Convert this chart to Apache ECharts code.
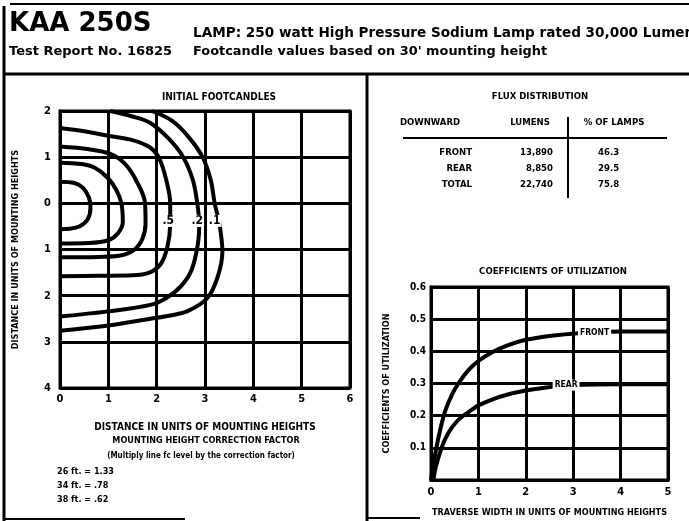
<!DOCTYPE html>
<html>
<head>
<meta charset="utf-8">
<script src="https://cdn.jsdelivr.net/npm/echarts@6/dist/echarts.min.js"></script>
<style>
  html, body { margin: 0; padding: 0; background: #fff; }
  #main { width: 689px; height: 521px; }
</style>
</head>
<body>
<div id="main"></div>
<script>
// isofootcandle lines, [across, along] in mounting heights (front is up)
var curve1 = [[0, 0.47], [0.3, 0.44], [0.48, 0.33], [0.6, 0.12], [0.63, -0.1], [0.57, -0.35], [0.4, -0.5], [0.2, -0.55], [0, -0.56]];
var curve2 = [[0, 0.88], [0.45, 0.85], [0.72, 0.77], [0.97, 0.57], [1.16, 0.3], [1.27, 0], [1.3, -0.4], [1.2, -0.65], [1.0, -0.8], [0.6, -0.86], [0, -0.87]];
var curve3 = [[0, 1.23], [0.6, 1.17], [1.04, 1.07], [1.35, 0.85], [1.6, 0.45], [1.76, 0], [1.77, -0.45], [1.7, -0.78], [1.52, -1.02], [1.25, -1.13], [0.8, -1.16], [0, -1.17]];
var curve4 = [[0, 1.63], [0.5, 1.56], [1.02, 1.46], [1.5, 1.37], [1.85, 1.22], [2.05, 0.98], [2.2, 0.5], [2.28, 0], [2.28, -0.45], [2.22, -0.95], [2.08, -1.32], [1.85, -1.5], [1.5, -1.56], [0.8, -1.57], [0, -1.58]];
var curve5 = [[1.04, 2.0], [1.5, 1.88], [1.87, 1.74], [2.25, 1.4], [2.55, 1.0], [2.75, 0.5], [2.84, 0], [2.88, -0.45], [2.85, -0.9], [2.72, -1.45], [2.5, -1.8], [2.2, -2.05], [1.87, -2.2], [1.0, -2.34], [0, -2.45]];
var curve6 = [[1.9, 2.0], [2.3, 1.8], [2.65, 1.45], [2.95, 1.0], [3.12, 0.5], [3.2, 0], [3.3, -0.45], [3.36, -1.05], [3.26, -1.6], [3.05, -2.05], [2.65, -2.33], [2.28, -2.43], [1.87, -2.5], [1.04, -2.64], [0, -2.76]];
var curves = [curve1, curve2, curve3, curve4, curve5, curve6];
var contourLabels = [[2.24, -0.38, '.5'], [2.84, -0.38, '.2'], [3.2, -0.38, '.1']];

// coefficients of utilization vs traverse width
var frontCU = [[0, 0], [0.05, 0.045], [0.1, 0.09], [0.2, 0.16], [0.3, 0.215], [0.45, 0.268], [0.6, 0.305], [0.8, 0.343], [1.0, 0.37], [1.3, 0.398], [1.6, 0.418], [2.0, 0.436], [2.5, 0.448], [3.0, 0.455], [3.5, 0.46], [4.0, 0.462], [5.0, 0.462]];
var rearCU = [[0.05, 0], [0.1, 0.04], [0.2, 0.09], [0.3, 0.128], [0.45, 0.165], [0.6, 0.19], [0.8, 0.212], [1.0, 0.232], [1.3, 0.251], [1.6, 0.265], [2.0, 0.278], [2.4, 0.287], [3.0, 0.295], [4.0, 0.298], [5.45, 0.298]];
var cuLabels = [[3.45, 0.457, 'FRONT'], [2.85, 0.295, 'REAR']];

// flux distribution table
var fluxSides = ['FRONT', 'REAR', 'TOTAL'];
var fluxLumens = ['13,890', '8,850', '22,740'];
var fluxPercent = ['46.3', '29.5', '75.8'];

// mounting height correction
var mountHeights = ['26 ft.', '34 ft.', '38 ft.'];
var mountFactors = ['1.33', '.78', '.62'];

var CF = '"DejaVu Sans Condensed", "Liberation Sans Narrow", "DejaVu Sans", sans-serif';
var HF = '"DejaVu Sans", "Liberation Sans", sans-serif';

function txt(x, y, s, size, align, family) {
  return {
    type: 'text', x: x, y: y,
    style: {
      text: s, fill: '#000', textAlign: align || 'left', textVerticalAlign: 'middle',
      font: 'bold ' + size + 'px ' + (family || CF)
    }
  };
}
function ln(x1, y1, x2, y2, w) {
  return { type: 'line', shape: { x1: x1, y1: y1, x2: x2, y2: y2 }, style: { stroke: '#000', lineWidth: w } };
}

var graphic = [
  // frame
  ln(10, 4, 689, 4, 2),
  ln(4, 6, 4, 521, 3),
  ln(4, 74, 689, 74, 3),
  ln(367, 74, 367, 521, 3),
  ln(4, 519, 185, 519, 2),
  ln(367, 518, 420, 518, 2),
  // header
  txt(9, 24, 'KAA 250S', 26, 'left', HF),
  txt(9, 52, 'Test Report No. 16825', 13, 'left', HF),
  txt(193, 33, 'LAMP: 250 watt High Pressure Sodium Lamp rated 30,000 Lumens', 13.6, 'left', HF),
  txt(193, 52, 'Footcandle values based on 30\' mounting height', 12.9, 'left', HF),
  // left panel
  txt(219, 97, 'INITIAL FOOTCANDLES', 10, 'center'),
  txt(206, 441, 'MOUNTING HEIGHT CORRECTION FACTOR', 9, 'center'),
  txt(201, 456, '(Multiply line fc level by the correction factor)', 8, 'center'),
  // right panel
  txt(540, 97, 'FLUX DISTRIBUTION', 9.5, 'center'),
  txt(430, 123, 'DOWNWARD', 9.5, 'center'),
  txt(530, 123, 'LUMENS', 9.5, 'center'),
  txt(614, 123, '% OF LAMPS', 9.5, 'center'),
  ln(403, 138, 667, 138, 2),
  ln(568, 117, 568, 198, 2),
  txt(553, 272, 'COEFFICIENTS OF UTILIZATION', 9.5, 'center')
];
fluxSides.forEach(function (s, i) {
  var y = 153 + i * 16;
  graphic.push(txt(472, y, s, 9.5, 'right'));
  graphic.push(txt(553, y, fluxLumens[i], 9.5, 'right'));
  graphic.push(txt(598, y, fluxPercent[i], 9.5, 'left'));
});
mountHeights.forEach(function (h, i) {
  graphic.push(txt(57, 472 + i * 14, h + ' = ' + mountFactors[i], 9, 'left'));
});

var tickLabel = { color: '#000', fontWeight: 'bold', fontSize: 11, fontFamily: CF };
var nameStyle = { color: '#000', fontWeight: 'bold', fontSize: 9, fontFamily: CF };
var markLabel = {
  show: true, position: 'inside', formatter: '{b}', color: '#000', fontWeight: 'bold', opacity: 1,
  fontFamily: CF, backgroundColor: '#fff', textBorderWidth: 0, textBorderColor: 'transparent'
};

var series = curves.map(function (c) {
  return {
    type: 'line', xAxisIndex: 0, yAxisIndex: 0, data: c, smooth: 0.35,
    showSymbol: false, lineStyle: { color: '#000', width: 4 }, z: 3
  };
});
series.push({
  type: 'scatter', xAxisIndex: 0, yAxisIndex: 0, symbolSize: 0, z: 5,
  itemStyle: { color: '#000', opacity: 1 },
  data: contourLabels.map(function (d) { return { value: [d[0], d[1]], name: d[2] }; }),
  label: Object.assign({ fontSize: 12, padding: [0, 1] }, markLabel)
});
series.push({
  type: 'line', xAxisIndex: 1, yAxisIndex: 1, data: frontCU, smooth: 0.3,
  showSymbol: false, lineStyle: { color: '#000', width: 4 }, z: 3
});
series.push({
  type: 'line', xAxisIndex: 1, yAxisIndex: 1, data: rearCU, smooth: 0.3, clip: false,
  showSymbol: false, lineStyle: { color: '#000', width: 4 }, z: 3
});
series.push({
  type: 'scatter', xAxisIndex: 1, yAxisIndex: 1, symbolSize: 0, z: 5,
  itemStyle: { color: '#000', opacity: 1 },
  data: cuLabels.map(function (d) { return { value: [d[0], d[1]], name: d[2] }; }),
  label: Object.assign({ fontSize: 8.5, padding: [1, 2] }, markLabel)
});

var myChart = echarts.init(document.getElementById('main'));
var option = {
  animation: false,
  backgroundColor: '#fff',
  grid: [
    { left: 60, top: 111, width: 290, height: 277, show: true, borderColor: '#000', borderWidth: 3 },
    { left: 431, top: 287, width: 237, height: 193, show: true, borderColor: '#000', borderWidth: 3 }
  ],
  xAxis: [
    {
      type: 'value', gridIndex: 0, min: 0, max: 6, interval: 1,
      name: 'DISTANCE IN UNITS OF MOUNTING HEIGHTS', nameLocation: 'middle', nameGap: 34,
      nameTextStyle: { color: '#000', fontWeight: 'bold', fontSize: 10, fontFamily: CF },
      axisLine: { lineStyle: { color: '#000', width: 3 } },
      axisTick: { show: false },
      axisLabel: Object.assign({ margin: 6 }, tickLabel),
      splitLine: { lineStyle: { color: '#000', width: 3 } }
    },
    {
      type: 'value', gridIndex: 1, min: 0, max: 5, interval: 1,
      name: 'TRAVERSE WIDTH IN UNITS OF MOUNTING HEIGHTS', nameLocation: 'middle', nameGap: 28,
      nameTextStyle: nameStyle,
      axisLine: { lineStyle: { color: '#000', width: 3 } },
      axisTick: { show: false },
      axisLabel: Object.assign({ margin: 7 }, tickLabel),
      splitLine: { lineStyle: { color: '#000', width: 3 } }
    }
  ],
  yAxis: [
    {
      type: 'value', gridIndex: 0, min: -4, max: 2, interval: 1,
      name: 'DISTANCE IN UNITS OF MOUNTING HEIGHTS', nameLocation: 'middle', nameGap: 40, nameRotate: 90,
      nameTextStyle: nameStyle,
      axisLine: { show: true, lineStyle: { color: '#000', width: 3 } },
      axisTick: { show: false },
      axisLabel: Object.assign({ margin: 9, formatter: function (v) { return String(Math.abs(v)); } }, tickLabel),
      splitLine: { lineStyle: { color: '#000', width: 3 } }
    },
    {
      type: 'value', gridIndex: 1, min: 0, max: 0.6, interval: 0.1,
      name: 'COEFFICIENTS OF UTILIZATION', nameLocation: 'middle', nameGap: 40, nameRotate: 90,
      nameTextStyle: nameStyle,
      axisLine: { show: true, lineStyle: { color: '#000', width: 3 } },
      axisTick: { show: false },
      axisLabel: Object.assign({}, tickLabel, { margin: 5, fontSize: 10, formatter: function (v) { return v === 0 ? '' : v.toFixed(1); } }),
      splitLine: { lineStyle: { color: '#000', width: 3 } }
    }
  ],
  series: series,
  graphic: graphic
};
myChart.setOption(option);
window.addEventListener('resize', function () {
  myChart.resize();
});
</script>
</body>
</html>
